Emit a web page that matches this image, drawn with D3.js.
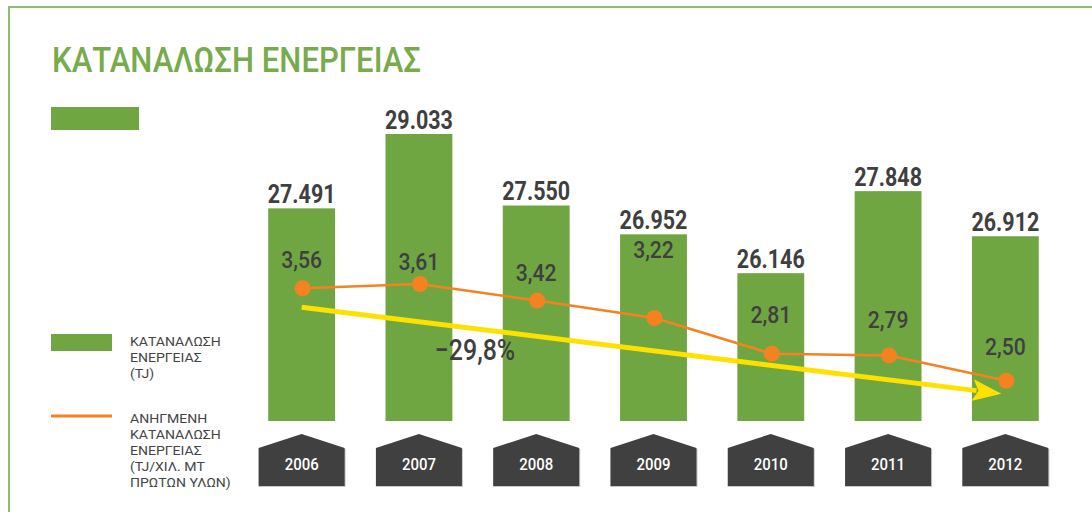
<!DOCTYPE html>
<html>
<head>
<meta charset="utf-8">
<script src="https://cdn.jsdelivr.net/npm/d3@7"></script>
<style>
  html, body { margin: 0; padding: 0; background: #fff; }
  svg { display: block; font-family: Roboto, "Noto Sans", sans-serif; }
</style>
</head>
<body>
<script>
// chart data
var years = ['2006', '2007', '2008', '2009', '2010', '2011', '2012'];
var energy = [27491, 29033, 27550, 26952, 26146, 27848, 26912];
var intensity = [3.56, 3.61, 3.42, 3.22, 2.81, 2.79, 2.50];
var title = 'ΚΑΤΑΝΑΛΩΣΗ ΕΝΕΡΓΕΙΑΣ';
var legendBars = ['ΚΑΤΑΝΑΛΩΣΗ', 'ΕΝΕΡΓΕΙΑΣ', '(TJ)'];
var legendLine = ['ΑΝΗΓΜΕΝΗ', 'ΚΑΤΑΝΑΛΩΣΗ', 'ΕΝΕΡΓΕΙΑΣ', '(TJ/ΧΙΛ. ΜΤ', 'ΠΡΩΤΩΝ ΥΛΩΝ)'];

// layout only: how far each intensity label sits above its dot
var labelLift = [20, 14, 20, 60, 31, 27, 26];

var w = 1092, h = 512;
var green = '#70a642', orange = '#f58220', dark = '#3f3f3f', yellow = '#ffe100';

var loc = d3.formatLocale({decimal: ',', thousands: '.', grouping: [3], currency: ['', '']});
var fmtInt = loc.format(',d');
var fmtDec = loc.format('.2f');
var fmtPct = loc.format('.1f');

var svg = d3.select('body').append('svg')
    .attr('width', w)
    .attr('height', h);

// frame
svg.append('path')
    .attr('d', 'M9,' + h + 'V7H' + w)
    .attr('fill', 'none')
    .attr('stroke', '#8dbd6e')
    .attr('stroke-width', 2);

svg.append('text')
    .attr('x', 52).attr('y', 72)
    .attr('font-size', 35)
    .attr('font-weight', 500)
    .attr('fill', '#77ab4c')
    .attr('textLength', 369)
    .attr('lengthAdjust', 'spacingAndGlyphs')
    .text(title);

svg.append('rect')
    .attr('x', 51).attr('y', 107)
    .attr('width', 88).attr('height', 23)
    .attr('fill', green);

var x = d3.scaleBand()
    .domain(years)
    .range([243, 1064])
    .paddingInner(0.43)
    .paddingOuter(0.215);

var y = d3.scaleLinear()
    .domain([23080, 29033])
    .range([421, 134]);

var y2 = d3.scaleLinear()
    .domain([2.5, 3.61])
    .range([380.7, 284]);

function cx(i) { return x(years[i]) + x.bandwidth() / 2; }

// bars
svg.append('g').selectAll('rect')
    .data(energy)
    .enter().append('rect')
    .attr('x', function(d, i) { return x(years[i]); })
    .attr('y', function(d) { return y(d); })
    .attr('width', x.bandwidth())
    .attr('height', function(d) { return y.range()[0] - y(d); })
    .attr('fill', green);

svg.append('g').selectAll('text')
    .data(energy)
    .enter().append('text')
    .attr('transform', function(d, i) { return 'translate(' + cx(i) + ',' + (y(d) - 5) + ')scale(0.86,1)'; })
    .attr('text-anchor', 'middle')
    .attr('font-size', 25)
    .attr('font-weight', 'bold')
    .attr('fill', dark)
    .text(function(d) { return fmtInt(d); });

// year tiles
var tile = svg.append('g').selectAll('g')
    .data(years)
    .enter().append('g')
    .attr('transform', function(d) { return 'translate(' + (x(d) + x.bandwidth() / 2) + ',0)'; });

tile.append('path')
    .attr('d', 'M-43,449V487H44V449Z')
    .attr('fill', '#c8c8c8');

tile.append('path')
    .attr('d', 'M-43,448L0,434L43,448V486H-43Z')
    .attr('fill', '#404040');

tile.append('text')
    .attr('transform', 'translate(0,470)scale(0.88,1)')
    .attr('text-anchor', 'middle')
    .attr('font-size', 17)
    .attr('font-weight', 500)
    .attr('fill', '#fff')
    .text(function(d) { return d; });

// trend arrow
var ax0 = cx(0), ay0 = y2(intensity[0]) + 19;
var ax1 = cx(6) - 4, ay1 = y2(intensity[6]) + 13;
var ang = Math.atan2(ay1 - ay0, ax1 - ax0);
var hl = 29;
svg.append('line')
    .attr('x1', ax0).attr('y1', ay0)
    .attr('x2', ax1 - Math.cos(ang) * (hl - 4)).attr('y2', ay1 - Math.sin(ang) * (hl - 4))
    .attr('stroke', yellow)
    .attr('stroke-width', 5);

svg.append('path')
    .attr('transform', 'translate(' + ax1 + ',' + ay1 + ')rotate(' + ang * 180 / Math.PI + ')')
    .attr('d', 'M0,0L-' + hl + ',-11L-' + (hl - 6) + ',0L-' + hl + ',11Z')
    .attr('fill', yellow);

svg.append('text')
    .attr('transform', 'translate(475,360)scale(0.86,1)')
    .attr('text-anchor', 'middle')
    .attr('font-size', 29)
    .attr('font-weight', 500)
    .attr('fill', dark)
    .text(fmtPct((intensity[6] / intensity[0] - 1) * 100) + '%');

// intensity line
var line = d3.line()
    .x(function(d, i) { return cx(i) + 1; })
    .y(function(d) { return y2(d); });

svg.append('path')
    .datum(intensity)
    .attr('d', line)
    .attr('fill', 'none')
    .attr('stroke', orange)
    .attr('stroke-width', 2.5);

svg.append('g').selectAll('circle')
    .data(intensity)
    .enter().append('circle')
    .attr('cx', function(d, i) { return cx(i) + 1; })
    .attr('cy', function(d) { return y2(d); })
    .attr('r', 8)
    .attr('fill', orange);

svg.append('g').selectAll('text')
    .data(intensity)
    .enter().append('text')
    .attr('transform', function(d, i) { return 'translate(' + cx(i) + ',' + (y2(d) - labelLift[i]) + ')scale(0.88,1)'; })
    .attr('text-anchor', 'middle')
    .attr('font-size', 24)
    .attr('font-weight', 500)
    .attr('fill', dark)
    .text(function(d) { return fmtDec(d); });

// legend
svg.append('rect')
    .attr('x', 51).attr('y', 334)
    .attr('width', 61).attr('height', 17)
    .attr('fill', green);

svg.append('line')
    .attr('x1', 51).attr('x2', 112)
    .attr('y1', 416).attr('y2', 416)
    .attr('stroke', orange)
    .attr('stroke-width', 3);

function legendText(lines, top) {
    svg.append('g').selectAll('text')
        .data(lines)
        .enter().append('text')
        .attr('transform', function(d, i) { return 'translate(130,' + (top + i * 16) + ')scale(1.04,1)'; })
        .attr('font-size', 13.5)
        .attr('fill', '#454545')
        .text(function(d) { return d; });
}
legendText(legendBars, 346);
legendText(legendLine, 423);
</script>
</body>
</html>
